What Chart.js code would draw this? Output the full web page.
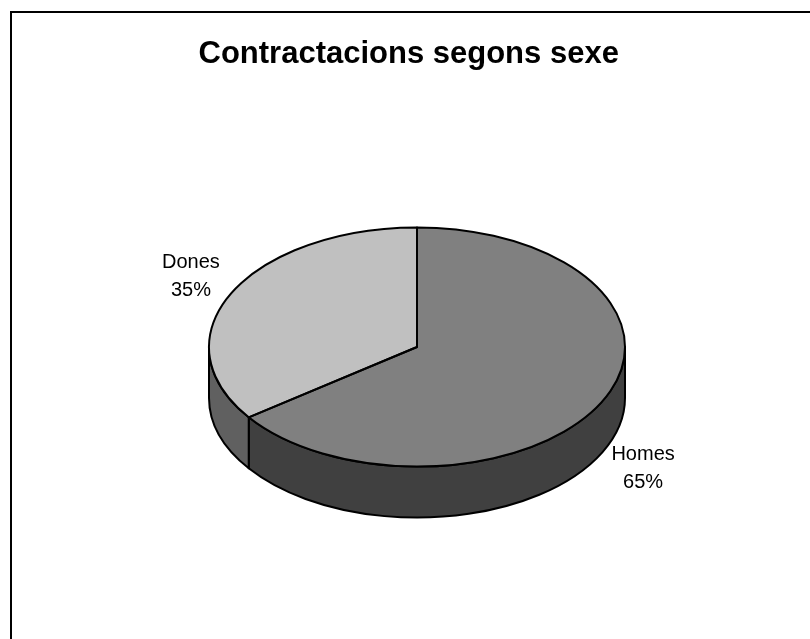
<!DOCTYPE html>
<html>
<head>
<meta charset="utf-8">
<title>Contractacions segons sexe</title>
<script src="https://cdn.jsdelivr.net/npm/chart.js@4/dist/chart.umd.min.js"></script>
<style>
  body { margin: 0; background: #fff; }
  canvas { display: block; }
</style>
</head>
<body>
<canvas id="pieChart" width="810" height="639"></canvas>
<script>
const labels = ["Homes", "Dones"];
const values = [65, 35];
const topColors = ["#808080", "#c0c0c0"];
const sideColors = ["#404040", "#606060"];

const TILT = 0.575;  // vertical squash of the disc
const DEPTH = 51;    // thickness of the disc, px

function squash(ctx, arc) {
  ctx.translate(arc.x, arc.y);
  ctx.scale(1, TILT);
  ctx.translate(-arc.x, -arc.y);
}

const pie3d = {
  id: "pie3d",
  beforeDraw(chart) {
    const ctx = chart.ctx;
    ctx.save();
    ctx.fillStyle = "#fff";
    ctx.fillRect(0, 0, chart.width, chart.height);
    ctx.lineWidth = 2;
    ctx.strokeStyle = "#000";
    ctx.strokeRect(11, 12, chart.width + 20, chart.height + 20);
    ctx.restore();
  },
  beforeDatasetsDraw(chart) {
    const ctx = chart.ctx;
    const arcs = chart.getDatasetMeta(0).data;
    // side walls, only the front half of the disc shows
    arcs.forEach((arc, i) => {
      [0, 2 * Math.PI].forEach(k => {
        const a0 = Math.max(arc.startAngle, k);
        const a1 = Math.min(arc.endAngle, k + Math.PI);
        if (a1 <= a0) return;
        const r = arc.outerRadius, d = DEPTH / TILT;
        ctx.save();
        squash(ctx, arc);
        ctx.beginPath();
        ctx.arc(arc.x, arc.y, r, a0, a1);
        ctx.arc(arc.x, arc.y + d, r, a1, a0, true);
        ctx.closePath();
        ctx.restore();
        ctx.fillStyle = sideColors[i];
        ctx.fill();
        ctx.lineWidth = 2;
        ctx.lineJoin = "round";
        ctx.strokeStyle = "#000";
        ctx.stroke();
      });
    });
    // top faces get drawn squashed
    ctx.save();
    squash(ctx, arcs[0]);
  },
  afterDatasetsDraw(chart) {
    const ctx = chart.ctx;
    ctx.restore();
    const arcs = chart.getDatasetMeta(0).data;
    arcs.forEach(arc => {
      ctx.save();
      squash(ctx, arc);
      ctx.beginPath();
      ctx.moveTo(arc.x, arc.y);
      ctx.arc(arc.x, arc.y, arc.outerRadius, arc.startAngle, arc.endAngle);
      ctx.closePath();
      ctx.restore();
      ctx.lineWidth = 2;
      ctx.lineJoin = "round";
      ctx.strokeStyle = "#000";
      ctx.stroke();
    });
    // labels
    const total = values.reduce((a, b) => a + b, 0);
    ctx.save();
    ctx.font = "20px Arial, 'Liberation Sans', sans-serif";
    ctx.fillStyle = "#000";
    ctx.textAlign = "center";
    ctx.textBaseline = "middle";
    arcs.forEach((arc, i) => {
      const mid = (arc.startAngle + arc.endAngle) / 2;
      const c = Math.cos(mid), s = Math.sin(mid);
      const x = arc.x + arc.outerRadius * c * 1.22;
      const y = arc.y + arc.outerRadius * TILT * s * 1.3 + (s > 0 ? DEPTH : 0);
      ctx.fillText(labels[i], x, y - 14.2);
      ctx.fillText(Math.round(values[i] / total * 100) + "%", x, y + 14.2);
    });
    ctx.restore();
  }
};

Chart.defaults.font.family = "Arial, 'Liberation Sans', sans-serif";

new Chart(document.getElementById("pieChart"), {
  type: "pie",
  data: {
    labels: labels,
    datasets: [{
      data: values,
      backgroundColor: topColors,
      borderWidth: 0,
      clip: false
    }]
  },
  options: {
    responsive: false,
    animation: false,
    events: [],
    layout: { padding: { left: 198.5, right: 174.5, top: 0, bottom: 84 } },
    plugins: {
      legend: { display: false },
      tooltip: { enabled: false },
      title: {
        display: true,
        text: "Contractacions segons sexe",
        align: "start",
        color: "#000",
        font: { size: 31, weight: "bold" },
        padding: { top: 35.5, bottom: 66.3 }
      }
    }
  },
  plugins: [pie3d]
});
</script>
</body>
</html>
